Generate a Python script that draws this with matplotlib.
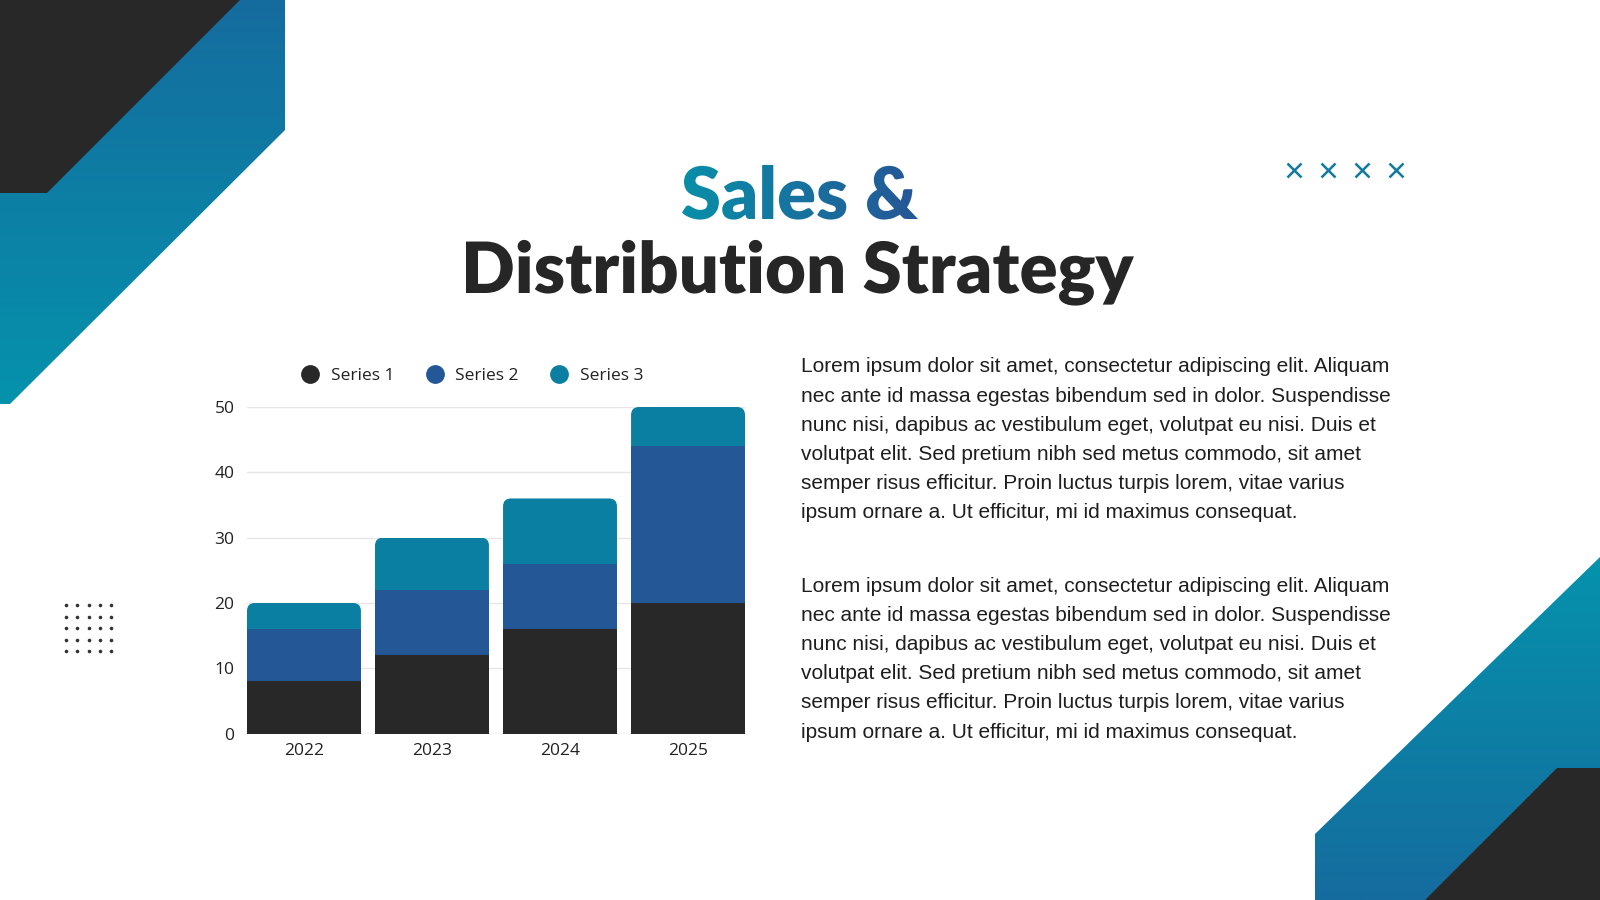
import numpy as np
import matplotlib
matplotlib.use('Agg')
import matplotlib.pyplot as plt
from matplotlib.patches import Polygon, PathPatch, FancyBboxPatch
from matplotlib.textpath import TextPath
from matplotlib.font_manager import FontProperties
from matplotlib.transforms import Affine2D
from matplotlib.lines import Line2D

# chart data
years = ['2022', '2023', '2024', '2025']
series_1 = [8, 12, 16, 20]
series_2 = [8, 10, 10, 24]
series_3 = [4, 8, 10, 6]
series_names = ['Series 1', 'Series 2', 'Series 3']
series_colors = ['#282828', '#235795', '#0b7fa1']
y_ticks = [0, 10, 20, 30, 40, 50]

title_1 = 'Sales &'
title_2 = 'Distribution Strategy'

para_lines = [
    'Lorem ipsum dolor sit amet, consectetur adipiscing elit. Aliquam',
    'nec ante id massa egestas bibendum sed in dolor. Suspendisse',
    'nunc nisi, dapibus ac vestibulum eget, volutpat eu nisi. Duis et',
    'volutpat elit. Sed pretium nibh sed metus commodo, sit amet',
    'semper risus efficitur. Proin luctus turpis lorem, vitae varius',
    'ipsum ornare a. Ut efficitur, mi id maximus consequat.',
]

DARK = '#282828'
TEAL = np.array([5, 146, 172]) / 255
BLUE = np.array([21, 108, 158]) / 255

fig = plt.figure(figsize=(16, 9), dpi=100)
fig.patch.set_facecolor('white')

# background layer, 1 unit = 1 pixel, y pointing down
bg = fig.add_axes([0, 0, 1, 1])
bg.set_xlim(0, 1600)
bg.set_ylim(900, 0)
bg.axis('off')


def gradient_poly(pts, top_col, bot_col, y_top, y_bot):
    n = 256
    t = np.linspace(0, 1, n)[:, None]
    img = top_col[None, :] * (1 - t) + bot_col[None, :] * t
    img = np.repeat(img[:, None, :], 2, axis=1)
    xs = [p[0] for p in pts]
    im = bg.imshow(img, extent=(min(xs), max(xs), y_bot, y_top), origin='upper',
                   aspect='auto', zorder=1, interpolation='bilinear')
    poly = Polygon(pts, closed=True, facecolor='none', edgecolor='none',
                   transform=bg.transData)
    bg.add_patch(poly)
    im.set_clip_path(poly)


# top left corner
gradient_poly([(0, 0), (285, 0), (285, 130), (10, 404), (0, 404)], BLUE, TEAL, 0, 404)
bg.add_patch(Polygon([(0, 0), (240, 0), (47, 193), (0, 193)], closed=True,
                     facecolor=DARK, edgecolor='none', zorder=2))

# bottom right corner
gradient_poly([(1315, 900), (1315, 834), (1600, 557), (1600, 900)], TEAL, BLUE, 557, 900)
bg.add_patch(Polygon([(1425, 900), (1557, 768), (1600, 768), (1600, 900)], closed=True,
                     facecolor=DARK, edgecolor='none', zorder=2))

# dot grid
for i in range(5):
    for j in range(5):
        bg.plot(66 + 11.3 * i, 605 + 11.5 * j, 'o', color='#333333', markersize=2.6,
                mec='none', zorder=3)

# x marks
for xm in [1294, 1328, 1362, 1396]:
    bg.plot(xm, 170, marker='x', color='#127a9e', markersize=10.5, mew=1.8, zorder=3)


def title_path(s, xc, baseline, width):
    tp = TextPath((0, 0), s, size=100, prop=FontProperties(family='Lato', weight='heavy'))
    bb = tp.get_extents()
    k = width / bb.width
    tr = Affine2D().translate(-bb.x0 - bb.width / 2, 0).scale(k, -k).translate(xc, baseline)
    return tr.transform_path(tp)


# title line 1 with horizontal gradient
p1 = title_path(title_1, 800, 219, 236)
ext = p1.get_extents()
grad = np.linspace(0, 1, 256)[None, :, None]
c_left = np.array([8, 143, 168]) / 255
c_right = np.array([38, 86, 150]) / 255
gimg = c_left[None, None, :] * (1 - grad) + c_right[None, None, :] * grad
gimg = np.repeat(gimg, 2, axis=0)
gi = bg.imshow(gimg, extent=(ext.x0 - 2, ext.x1 + 2, ext.y1 + 2, ext.y0 - 2), origin='upper',
               aspect='auto', zorder=4, interpolation='bilinear')
pp1 = PathPatch(p1, facecolor='none', edgecolor='none', transform=bg.transData)
bg.add_patch(pp1)
gi.set_clip_path(pp1)
bg.set_xlim(0, 1600)
bg.set_ylim(900, 0)

p2 = title_path(title_2, 800, 293, 668)
bg.add_patch(PathPatch(p2, facecolor='#262626', edgecolor='none', zorder=4))

# paragraphs
for k, line in enumerate(para_lines):
    bg.text(801, 367 + 29.2 * k, line, fontsize=15, family='Liberation Sans',
            color='#1e1e1e', va='center', ha='left')
    bg.text(801, 586 + 29.2 * k, line, fontsize=15, family='Liberation Sans',
            color='#1e1e1e', va='center', ha='left')

# chart
ax_w, ax_h = 498, 326.6
ax = fig.add_axes([247 / 1600, 1 - 733.6 / 900, ax_w / 1600, ax_h / 900])
ax.patch.set_alpha(0)
x = np.arange(len(years))
w = 0.89
b1 = ax.bar(x, series_1, width=w, color=series_colors[0], zorder=2)
b2 = ax.bar(x, series_2, width=w, bottom=series_1, color=series_colors[1], zorder=2)
bottom_3 = [a + b for a, b in zip(series_1, series_2)]
b3 = ax.bar(x, series_3, width=w, bottom=bottom_3, color=series_colors[2], zorder=2)
ax.set_xlim(-w / 2, len(years) - 1 + w / 2)
ax.set_ylim(0, 50)
ax.set_yticks(y_ticks)
ax.set_xticks(x)
ax.set_xticklabels(years)
ax.yaxis.grid(True, color='#e6e6e6', lw=1, zorder=0)
ax.set_axisbelow(True)
for s in ax.spines.values():
    s.set_visible(False)
ax.tick_params(axis='y', length=0, pad=9, labelsize=12.5, labelcolor='#222222')
ax.tick_params(axis='x', length=0, pad=7, labelsize=12.5, labelcolor='#222222')
for lab in ax.get_xticklabels() + ax.get_yticklabels():
    lab.set_family('Open Sans')

# rounded top corners on the top segments (radius about 8 px)
px_x = ax_w / (len(years) - 1 + w)
px_y = ax_h / 50
rad = 8 / px_x
for r in b3:
    clip = FancyBboxPatch((r.get_x(), r.get_y() - 3), r.get_width(), r.get_height() + 3,
                          boxstyle='round,pad=0,rounding_size=%f' % rad,
                          mutation_aspect=px_x / px_y, transform=ax.transData)
    r.set_clip_path(clip)

handles = [Line2D([], [], marker='o', ls='', color=c, markersize=12.5) for c in series_colors]
leg = fig.legend(handles, series_names, loc='center', bbox_to_anchor=(468 / 1600, 1 - 376 / 900),
                 ncol=3, frameon=False, handletextpad=0.2, columnspacing=1.3,
                 prop=FontProperties(family='Open Sans', size=12.5))
for t in leg.get_texts():
    t.set_color('#222222')

fig.savefig('out.png', dpi=100, facecolor='white')
